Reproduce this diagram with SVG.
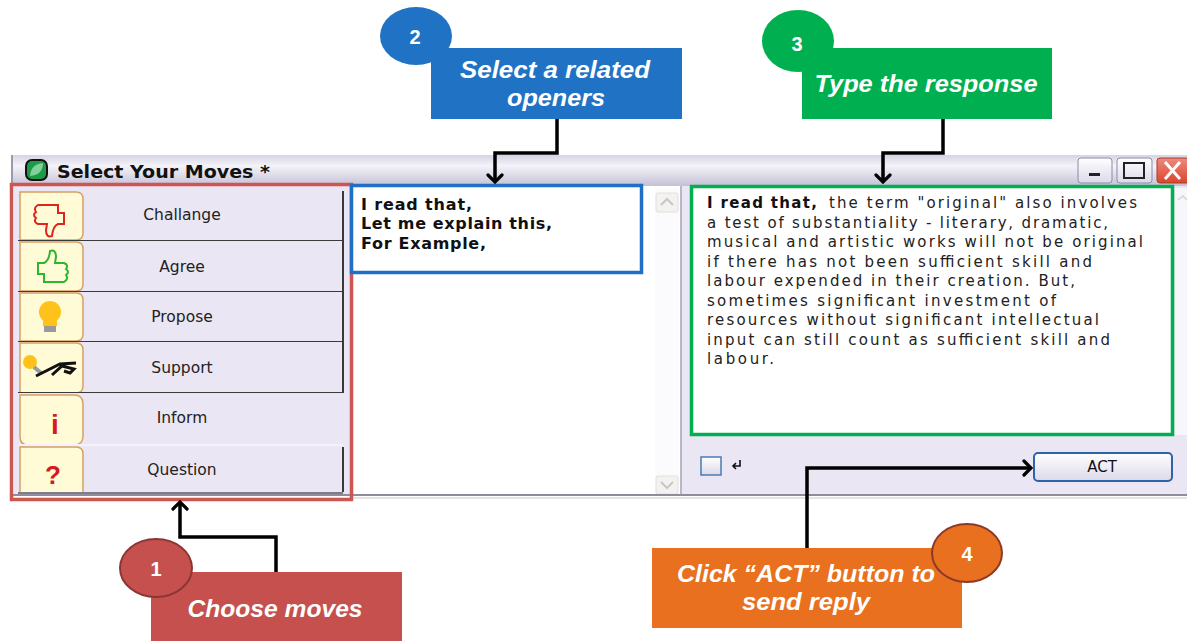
<svg xmlns="http://www.w3.org/2000/svg" width="1187" height="641" viewBox="0 0 1187 641">
<defs>
<linearGradient id="tb" x1="0" y1="0" x2="0" y2="1">
<stop offset="0" stop-color="#d6d3e4"/><stop offset="0.35" stop-color="#f4f3f9"/><stop offset="1" stop-color="#c4c1d6"/>
</linearGradient>
<linearGradient id="btn" x1="0" y1="0" x2="0" y2="1">
<stop offset="0" stop-color="#ffffff"/><stop offset="1" stop-color="#dcd8ea"/>
</linearGradient>
<linearGradient id="cls" x1="0" y1="0" x2="0" y2="1">
<stop offset="0" stop-color="#f08a7c"/><stop offset="1" stop-color="#d9452f"/>
</linearGradient>
<marker id="ah" viewBox="-10 -9 12 18" refX="0" refY="0" markerWidth="12" markerHeight="18" markerUnits="userSpaceOnUse" orient="auto">
<path d="M-7,-7 L0,0 L-7,7" fill="none" stroke="#000" stroke-width="3.2" stroke-linecap="round" stroke-linejoin="miter"/>
</marker>
<style>
.lbl{font-family:"DejaVu Sans",Verdana,sans-serif;font-size:15.5px;fill:#222;text-anchor:middle}
.op{font-family:"DejaVu Sans",Verdana,sans-serif;font-size:16px;font-weight:bold;fill:#111}
.rsp{font-family:"DejaVu Sans",Verdana,sans-serif;font-size:15px;fill:#222}
.cap{font-family:"Liberation Sans",Arial,sans-serif;font-size:23px;font-weight:bold;font-style:italic;fill:#fff;text-anchor:middle}
.num{font-family:"Liberation Sans",Arial,sans-serif;font-size:20px;font-weight:bold;fill:#fff;text-anchor:middle}
.row{fill:#ebe6f3}
.ic{fill:#fffbd6;stroke:#d8a064;stroke-width:1.5}
.dk{stroke:#3a3a3a;stroke-width:2;fill:none}
.conn{fill:none;stroke:#000;stroke-width:3.5;marker-end:url(#ah)}
</style>
</defs>
<rect width="1187" height="641" fill="#fff"/>

<g id="window">
<rect x="12" y="155" width="1175" height="31" fill="url(#tb)"/>
<line x1="12" y1="155" x2="12" y2="497" stroke="#9c9aa8" stroke-width="2"/>
<rect x="26" y="160" width="21" height="20" rx="6" fill="#1f9a4a" stroke="#111" stroke-width="2"/>
<path d="M30,176 Q31,164 43,163 Q43,175 30,176Z" fill="#7fd39a"/>
<text x="57" y="178" font-family="DejaVu Sans,Verdana,sans-serif" font-size="18" font-weight="bold" fill="#111" textLength="213" lengthAdjust="spacingAndGlyphs">Select Your Moves *</text>
<rect x="1078" y="158" width="34" height="25" rx="3" fill="url(#btn)" stroke="#8e8aa8"/>
<rect x="1089" y="173" width="11" height="3" fill="#222"/>
<rect x="1117" y="158" width="35" height="25" rx="3" fill="url(#btn)" stroke="#8e8aa8"/>
<rect x="1124" y="163" width="20" height="15" fill="none" stroke="#222" stroke-width="2"/>
<rect x="1157" y="158" width="32" height="25" rx="3" fill="url(#cls)" stroke="#a83a2a"/>
<path d="M1165,162 L1180,179 M1180,162 L1165,179" stroke="#fff" stroke-width="3"/>
<rect x="14" y="186" width="338" height="309" fill="#ebe6f3"/>
<rect x="352" y="186" width="328" height="309" fill="#fff"/>
<rect x="680" y="186" width="507" height="309" fill="#ebe6f3"/>
<line x1="681" y1="186" x2="681" y2="495" stroke="#b9b6c8" stroke-width="2"/>
<rect x="655" y="188" width="24" height="306" fill="#fbfbfd"/>
<rect x="656" y="193" width="22" height="19" rx="2" fill="#f3f2f0" stroke="#e2e0dc"/>
<path d="M661,205 L667,199 L673,205" fill="none" stroke="#c9c7c2" stroke-width="2"/>
<rect x="656" y="476" width="22" height="18" rx="2" fill="#f3f2f0" stroke="#e2e0dc"/>
<path d="M661,482 L667,488 L673,482" fill="none" stroke="#c9c7c2" stroke-width="2"/>
<rect x="1175" y="188" width="12" height="247" fill="#f7f6fa"/>
<path d="M1178,200 L1183,196 L1187,200" fill="none" stroke="#d6d4d0" stroke-width="1.5"/>
<line x1="12" y1="495" x2="1187" y2="495" stroke="#8f8d9c" stroke-width="2"/>
<line x1="352" y1="498" x2="1187" y2="498" stroke="#c9c7d4" stroke-width="1"/>
</g>

<g id="move-challange">
<rect class="row" x="18" y="191" width="325" height="50"/>
<path class="ic" d="M20,192 H76 Q83,192 83,199 V233 Q83,240 76,240 H20Z"/>
<path d="M18,241 H343 M343,191 V241" class="dk"/>
<path d="M38,205 H58 V213 H64 V224 H58 Q53,226 52,236 Q46,238 46,230 L47,224 H38 Q33,222 36,218 Q32,215 36,212 Q33,208 38,205Z" fill="none" stroke="#e0231b" stroke-width="2"/>
<text class="lbl" x="182" y="220">Challange</text>
</g>

<g id="move-agree">
<rect class="row" x="18" y="241" width="325" height="51"/>
<path class="ic" d="M20,242 H76 Q83,242 83,249 V284 Q83,291 76,291 H20Z"/>
<path d="M18,292 H343 M343,241 V292" class="dk"/>
<path d="M38,282 H58 V274 H64 V263 H58 Q53,261 52,251 Q46,249 46,257 L47,263 H38 Q33,265 36,269 Q32,272 36,275 Q33,279 38,282Z" fill="none" stroke="#2db52d" stroke-width="2" transform="translate(102,0) scale(-1,1)"/>
<text class="lbl" x="182" y="272">Agree</text>
</g>

<g id="move-propose">
<rect class="row" x="18" y="292" width="325" height="50"/>
<path class="ic" d="M20,293 H76 Q83,293 83,300 V334 Q83,341 76,341 H20Z"/>
<path d="M18,342 H343 M343,292 V342" class="dk"/>
<circle cx="50" cy="312" r="11" fill="#ffc21a"/>
<rect x="43" y="318" width="14" height="8" fill="#ffc21a"/>
<rect x="44" y="326" width="12" height="6" fill="#9a9a9a"/>
<text class="lbl" x="182" y="322">Propose</text>
</g>

<g id="move-support">
<rect class="row" x="18" y="342" width="325" height="51"/>
<path class="ic" d="M20,343 H76 Q83,343 83,350 V386 Q83,393 76,393 H20Z"/>
<path d="M18,393 H343 M343,342 V393" class="dk"/>
<circle cx="30" cy="362" r="7" fill="#ffc21a"/>
<path d="M34,367 L41,373" stroke="#9a9a9a" stroke-width="4"/>
<path d="M36,376 L60,364 L76,363 M52,375 L62,366 L74,369 L70,373 L64,371" fill="none" stroke="#111" stroke-width="3"/>
<text class="lbl" x="182" y="373">Support</text>
</g>

<g id="move-inform">
<rect class="row" x="18" y="393" width="325" height="52"/>
<path class="ic" d="M20,395 H74 Q83,395 83,404 V436 Q83,445 74,445 H28 Q20,445 20,437Z"/>
<line x1="18" y1="445" x2="343" y2="445" stroke="#f4f2f8" stroke-width="2"/>
<text x="55" y="434" font-family="Liberation Sans,Arial,sans-serif" font-size="28" font-weight="bold" fill="#d8191b" text-anchor="middle">i</text>
<text class="lbl" x="182" y="423">Inform</text>
</g>

<g id="move-question">
<rect class="row" x="18" y="446" width="325" height="48"/>
<path class="ic" d="M20,447 H76 Q83,447 83,454 V493 H20Z"/>
<path d="M343,447 V492" class="dk"/>
<line x1="18" y1="493" x2="343" y2="493" stroke="#7e7c8c" stroke-width="2"/>
<text x="53" y="484" font-family="Liberation Sans,Arial,sans-serif" font-size="26" font-weight="bold" fill="#d8191b" text-anchor="middle">?</text>
<text class="lbl" x="182" y="475">Question</text>
</g>

<g id="moves-highlight">
<rect x="11.5" y="184.5" width="340" height="315" fill="none" stroke="#cd5652" stroke-width="3.5"/>
</g>

<g id="openers">
<rect x="351.5" y="185.5" width="290" height="87" fill="#fff" stroke="#1f6fc4" stroke-width="3.5"/>
<text class="op" x="361" y="210" textLength="111" lengthAdjust="spacing">I read that,</text>
<text class="op" x="361" y="229" textLength="191" lengthAdjust="spacing">Let me explain this,</text>
<text class="op" x="361" y="249" textLength="125" lengthAdjust="spacing">For Example,</text>
</g>

<g id="response">
<rect x="691.5" y="186.5" width="481" height="248" fill="#fff" stroke="#00b050" stroke-width="3.5"/>
<text class="rsp" x="707" y="208"><tspan font-weight="bold" fill="#111" textLength="110" lengthAdjust="spacing">I read that,</tspan><tspan x="829" textLength="308" lengthAdjust="spacing">the term "original" also involves</tspan></text>
<text class="rsp" x="707" y="228" textLength="401" lengthAdjust="spacing">a test of substantiality - literary, dramatic,</text>
<text class="rsp" x="707" y="247" textLength="436" lengthAdjust="spacing">musical and artistic works will not be original</text>
<text class="rsp" x="707" y="267" textLength="385" lengthAdjust="spacing">if there has not been sufficient skill and</text>
<text class="rsp" x="707" y="286" textLength="368" lengthAdjust="spacing">labour expended in their creation. But,</text>
<text class="rsp" x="707" y="306" textLength="349" lengthAdjust="spacing">sometimes significant investment of</text>
<text class="rsp" x="707" y="325" textLength="392" lengthAdjust="spacing">resources without significant intellectual</text>
<text class="rsp" x="707" y="345" textLength="403" lengthAdjust="spacing">input can still count as sufficient skill and</text>
<text class="rsp" x="707" y="364" textLength="67" lengthAdjust="spacing">labour.</text>
</g>

<g id="send-controls">
<rect x="701" y="457" width="20" height="18" fill="url(#btn)" stroke="#4a7bb0" stroke-width="1.5"/>
<path d="M740,460 V466 H733 M736,463 L733,466 L736,469" fill="none" stroke="#111" stroke-width="1.6"/>
<rect x="1034" y="453" width="138" height="28" rx="4" fill="url(#btn)" stroke="#2f63a8" stroke-width="2"/>
<text x="1102" y="472" font-family="DejaVu Sans,Verdana,sans-serif" font-size="15" fill="#111" text-anchor="middle">ACT</text>
</g>

<g id="callout-2">
<rect x="431" y="48" width="251" height="71" fill="#1f72c4"/>
<ellipse cx="416" cy="36" rx="36" ry="29" fill="#1f72c4"/>
<text class="num" x="415" y="44">2</text>
<text class="cap" x="555" y="78" textLength="190" lengthAdjust="spacingAndGlyphs">Select a related</text>
<text class="cap" x="556" y="106" textLength="98" lengthAdjust="spacingAndGlyphs">openers</text>
</g>

<g id="callout-3">
<rect x="802" y="48" width="250" height="71" fill="#00b050"/>
<ellipse cx="798" cy="41" rx="36" ry="31" fill="#00b050"/>
<text class="num" x="797" y="51">3</text>
<text class="cap" x="926" y="92" textLength="223" lengthAdjust="spacingAndGlyphs">Type the response</text>
</g>

<g id="callout-1">
<rect x="151" y="572" width="251" height="69" fill="#c5504d"/>
<ellipse cx="156" cy="568" rx="36" ry="29" fill="#c5504d" stroke="#8c3634" stroke-width="2"/>
<text class="num" x="156" y="576">1</text>
<text class="cap" x="275" y="617" textLength="175" lengthAdjust="spacingAndGlyphs">Choose moves</text>
</g>

<g id="callout-4">
<rect x="652" y="548" width="310" height="80" fill="#e8701f"/>
<ellipse cx="967" cy="553" rx="35" ry="29" fill="#e8701f" stroke="#8b3a2a" stroke-width="2"/>
<text class="num" x="967" y="561">4</text>
<text class="cap" x="806" y="582" textLength="258" lengthAdjust="spacingAndGlyphs">Click “ACT” button to</text>
<text class="cap" x="806" y="610" textLength="128" lengthAdjust="spacingAndGlyphs">send reply</text>
</g>

<g id="connectors">
<path class="conn" d="M276,572 V537 H180 V502"/>
<path class="conn" d="M557,119 V153 H495 V182"/>
<path class="conn" d="M943,119 V153 H883 V182"/>
<path class="conn" d="M807,548 V468 H1031"/>
</g>
</svg>
